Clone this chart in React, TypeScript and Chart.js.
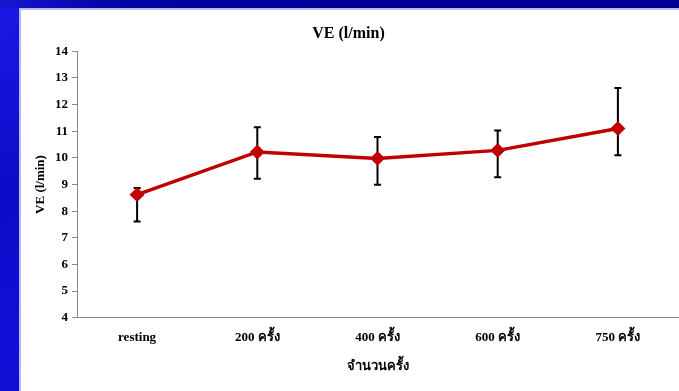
import React, { useEffect, useRef } from "react";
import { Chart, registerables } from "chart.js";

Chart.register(...registerables);

const categories = ["resting", "200 ครั้ง", "400 ครั้ง", "600 ครั้ง", "750 ครั้ง"];
const meanValues = [8.62, 10.22, 9.98, 10.28, 11.1];
const upperValues = [8.87, 11.15, 10.78, 11.03, 12.62];
const lowerValues = [7.61, 9.22, 8.99, 9.27, 10.1];
const yTickMin = 4;
const yTickMax = 14;

const FONT = "'Liberation Serif', 'Times New Roman', serif";

const errorBarPlugin = {
  id: "errorBars",
  beforeDatasetsDraw(chart: any) {
    const { ctx, scales } = chart;
    const x = scales.x;
    const y = scales.y;
    ctx.save();
    ctx.strokeStyle = "#000000";
    ctx.lineWidth = 2;
    categories.forEach((_, i) => {
      const px = x.getPixelForValue(i);
      const pt = y.getPixelForValue(upperValues[i]);
      const pb = y.getPixelForValue(lowerValues[i]);
      ctx.beginPath();
      ctx.moveTo(px, pt);
      ctx.lineTo(px, pb);
      ctx.moveTo(px - 3.5, pt);
      ctx.lineTo(px + 3.5, pt);
      ctx.moveTo(px - 3.5, pb);
      ctx.lineTo(px + 3.5, pb);
      ctx.stroke();
    });
    ctx.restore();
  },
};

export default function App() {
  const ref = useRef<HTMLCanvasElement | null>(null);
  useEffect(() => {
    if (!ref.current) return;
    const chart = new Chart(ref.current, {
      type: "line",
      data: {
        labels: categories,
        datasets: [
          {
            data: meanValues,
            borderColor: "#c00000",
            borderWidth: 3.5,
            pointStyle: "rectRot",
            pointRadius: 5,
            pointBackgroundColor: "#c00000",
            pointBorderColor: "#c00000",
            tension: 0,
          },
        ],
      },
      options: {
        animation: false,
        responsive: false,
        layout: { autoPadding: false, padding: { left: 0, right: 1, top: 0, bottom: 13 } },
        plugins: {
          legend: { display: false },
          tooltip: { enabled: false },
          title: {
            display: true,
            text: "VE (l/min)",
            color: "#000",
            font: { family: FONT, size: 16, weight: "bold" },
            padding: { top: 16, bottom: 8 },
          },
        },
        scales: {
          x: {
            offset: true,
            afterFit(scale: any) {
              scale.paddingLeft = 0;
              scale.paddingRight = 0;
            },
            grid: { display: false },
            border: { display: true, color: "#888888", width: 1 },
            ticks: {
              color: "#000",
              font: { family: FONT, size: 13, weight: "bold" },
              padding: 4,
              maxRotation: 0,
            },
            title: {
              display: true,
              text: "จำนวนครั้ง",
              color: "#000",
              font: { family: FONT, size: 13, weight: "bold" },
              padding: { top: 9, bottom: 4 },
            },
          },
          y: {
            min: yTickMin,
            max: yTickMax,
            afterFit(scale: any) {
              scale.width = 58;
            },
            grid: {
              display: true,
              drawOnChartArea: false,
              drawTicks: true,
              tickLength: 5,
              color: "#888888",
            },
            border: { display: true, color: "#888888", width: 1 },
            ticks: {
              stepSize: 1,
              color: "#000",
              font: { family: FONT, size: 13, weight: "bold" },
              padding: 4,
            },
            title: {
              display: true,
              text: "VE (l/min)",
              color: "#000",
              font: { family: FONT, size: 13, weight: "bold" },
              padding: { top: 14, bottom: 0 },
            },
          },
        },
      },
      plugins: [errorBarPlugin],
    });
    return () => chart.destroy();
  }, []);

  return (
    <div
      style={{
        position: "fixed",
        left: 0,
        top: 0,
        width: 679,
        height: 391,
        overflow: "hidden",
        background:
          "linear-gradient(160deg, #1a1ae6 0%, #0c0cc8 30%, #1010d8 55%, #0a0ab8 100%)",
      }}
    >
      <div
        style={{
          position: "absolute",
          left: 0,
          top: 0,
          width: 679,
          height: 8,
          background: "linear-gradient(90deg, #1616d0 0%, #0505a8 15%, #00009a 40%, #000094 100%)",
        }}
      />
      <div
        style={{
          position: "absolute",
          left: 19,
          top: 8,
          width: 660,
          height: 383,
          background: "#ffffff",
          borderLeft: "2px solid #b8b8f0",
          borderTop: "2px solid #b8b8f0",
          boxSizing: "border-box",
        }}
      />
      <canvas
        ref={ref}
        width={660}
        height={383}
        style={{ position: "absolute", left: 19, top: 8, display: "block" }}
      />
    </div>
  );
}
